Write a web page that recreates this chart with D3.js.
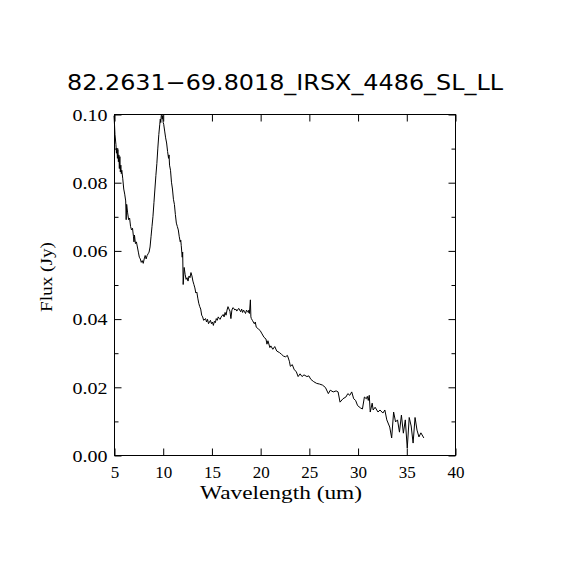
<!DOCTYPE html>
<html>
<head>
<meta charset="utf-8">
<script src="https://cdn.jsdelivr.net/npm/d3@7"></script>
<style>
    body { margin: 0; background: #fff; }
    svg text { font-family: "Liberation Serif", serif; fill: #000; }
</style>
</head>
<body>
<div id="divChart"></div>
<script>
    var chartTitle = "82.2631\u221269.8018_IRSX_4486_SL_LL";
    var xLabel = "Wavelength (um)";
    var yLabel = "Flux (Jy)";
    var xTicks = [5, 10, 15, 20, 25, 30, 35, 40];
    var yTicks = [0.00, 0.02, 0.04, 0.06, 0.08, 0.10];
    var yMinorTicks = [0.01, 0.03, 0.05, 0.07, 0.09];

    // wavelength (um)
    var wave = [
        5.0, 5.05, 5.1, 5.2, 5.25, 5.3, 5.35, 5.4, 5.45, 5.5, 5.55, 5.6, 5.65, 5.7, 5.75, 5.8, 5.9,
        6.0, 6.1, 6.2, 6.25, 6.3, 6.4, 6.5, 6.6, 6.7, 6.8, 6.9, 7.0, 7.05, 7.1, 7.2, 7.3, 7.4, 7.5,
        7.6, 7.7, 7.8, 7.9, 8.0, 8.1, 8.2, 8.3, 8.4, 8.5, 8.6, 8.7, 8.8, 8.9, 9.0, 9.1, 9.2, 9.3,
        9.4, 9.5, 9.6, 9.7, 9.75, 9.8, 9.85, 9.9, 9.95, 10.0, 10.05, 10.1, 10.2, 10.3, 10.4, 10.5,
        10.6, 10.65, 10.7, 10.8, 10.9, 11.0, 11.1, 11.2, 11.3, 11.4, 11.5, 11.6, 11.7, 11.8, 11.85,
        11.9, 12.0, 12.05, 12.1, 12.2, 12.3, 12.4, 12.5, 12.6, 12.7, 12.8, 12.9, 13.0, 13.1, 13.2,
        13.3, 13.4, 13.5, 13.6, 13.7, 13.8, 13.9, 14.0, 14.1, 14.2, 14.4, 14.5, 14.6, 14.7, 14.8,
        14.9, 15.0, 15.1, 15.2, 15.3, 15.4, 15.5, 15.6, 15.7, 15.8, 15.9, 16.0, 16.2, 16.3, 16.4,
        16.5, 16.6, 16.7, 16.8, 16.9, 17.0, 17.1, 17.2, 17.3, 17.4, 17.5, 17.6, 17.8, 17.9, 18.0,
        18.1, 18.2, 18.3, 18.4, 18.5, 18.6, 18.7, 18.8, 18.85, 18.9, 19.0, 19.05, 19.1, 19.2, 19.4,
        19.5, 19.6, 19.8, 20.0, 20.2, 20.4, 20.6, 20.7, 20.8, 21.0, 21.1, 21.3, 21.5, 21.7, 22.0,
        22.2, 22.4, 22.6, 22.8, 23.0, 23.1, 23.3, 23.5, 23.7, 23.9, 24.1, 24.3, 24.5, 24.8, 25.0,
        25.2, 25.5, 25.8, 26.1, 26.4, 26.7, 27.0, 27.2, 27.5, 27.8, 28.0, 28.2, 28.5, 28.8, 29.0,
        29.2, 29.4, 29.6, 29.8, 30.0, 30.3, 30.5, 30.7, 30.9, 31.0, 31.1, 31.2, 31.3, 31.5, 31.6,
        31.8, 32.1, 32.3, 32.6, 32.8, 33.0, 33.3, 33.5, 33.7, 33.9, 34.1, 34.3, 34.5, 34.7, 34.9,
        35.1, 35.3, 35.5, 35.7, 35.9, 36.1, 36.3, 36.5, 36.8
    ];

    // flux (Jy)
    var flux = [
        0.0995, 0.097, 0.094, 0.091, 0.0885, 0.090, 0.087, 0.0895, 0.086, 0.088, 0.084, 0.0875, 0.083, 0.085, 0.0825, 0.0835, 0.081,
        0.078, 0.0765, 0.0745, 0.069, 0.0735, 0.071, 0.069, 0.0695, 0.067, 0.066, 0.0665, 0.064, 0.0625, 0.0645, 0.062, 0.0625, 0.061, 0.0595,
        0.058, 0.0575, 0.0565, 0.057, 0.0562, 0.0575, 0.0585, 0.0575, 0.0585, 0.059, 0.0595, 0.061, 0.064, 0.067, 0.070, 0.074, 0.078, 0.082,
        0.0855, 0.090, 0.094, 0.097, 0.0985, 0.0975, 0.0995, 0.100, 0.0985, 0.0995, 0.0975, 0.097, 0.095, 0.093, 0.0915, 0.089,
        0.087, 0.088, 0.085, 0.0835, 0.080, 0.078, 0.075, 0.0735, 0.0705, 0.068, 0.067, 0.066, 0.064, 0.0625, 0.063,
        0.0615, 0.058, 0.0595, 0.050, 0.055, 0.053, 0.0515, 0.052, 0.051, 0.0525, 0.052, 0.0535, 0.0525, 0.051, 0.050,
        0.049, 0.0475, 0.0478, 0.046, 0.0445, 0.0435, 0.0428, 0.041, 0.0405, 0.0395, 0.040, 0.039, 0.0398, 0.0385, 0.039,
        0.0395, 0.0385, 0.039, 0.038, 0.0392, 0.0388, 0.040, 0.0395, 0.0405, 0.040, 0.0398, 0.0405, 0.0412, 0.0405, 0.0418,
        0.041, 0.0425, 0.0435, 0.0428, 0.0422, 0.040, 0.0425, 0.0432, 0.043, 0.0425, 0.0428, 0.0422, 0.043, 0.0425, 0.042,
        0.0428, 0.0418, 0.0425, 0.042, 0.0415, 0.0425, 0.042, 0.0418, 0.0425, 0.0415, 0.0455, 0.0405, 0.040, 0.0395, 0.0385,
        0.039, 0.0375, 0.037, 0.0365, 0.0355, 0.0345, 0.034, 0.0325, 0.0335, 0.0315, 0.032, 0.031, 0.0318, 0.0305, 0.030,
        0.0295, 0.029, 0.0288, 0.0292, 0.0275, 0.026, 0.0265, 0.025, 0.0245, 0.023, 0.0238, 0.023, 0.0235, 0.023, 0.0232,
        0.0222, 0.0215, 0.021, 0.0208, 0.0205, 0.0198, 0.018, 0.019, 0.0185, 0.0188, 0.0185, 0.0155, 0.0165, 0.017, 0.018,
        0.0175, 0.0185, 0.0165, 0.016, 0.0145, 0.0138, 0.0135, 0.017, 0.0165, 0.0172, 0.016, 0.0175, 0.0126, 0.0152, 0.0132,
        0.014, 0.0126, 0.0132, 0.0123, 0.0132, 0.0103, 0.0082, 0.005, 0.0126, 0.0097, 0.0103, 0.0067, 0.0117, 0.0064, 0.0103,
        0.002, 0.011, 0.0085, 0.0035, 0.011, 0.0073, 0.0053, 0.0065, 0.005
    ];

    function init()
    {
        var chartPlace = document.getElementById("divChart");

        var width = 570;
        var height = 570;
        var left = 114, right = 455, top = 114, bottom = 455;

        var svg = d3.select(chartPlace).append("svg")
            .attr("width", width)
            .attr("height", height);

        var scaleX = d3.scaleLinear()
            .domain([5, 40])
            .range([left, right]);

        var scaleY = d3.scaleLinear()
            .domain([0, 0.1])
            .range([bottom, top]);

        // рамка
        svg.append("rect")
            .attr("x", left + 0.5)
            .attr("y", top + 0.5)
            .attr("width", right - left)
            .attr("height", bottom - top)
            .style("fill", "none")
            .style("stroke", "black")
            .style("stroke-width", 1);

        // оси: метки внутрь рамки, подписи снизу и слева
        var xAxis = d3.axisBottom(scaleX).tickValues(xTicks).tickSizeInner(-7).tickSizeOuter(0).tickPadding(10);
        var xAxisTop = d3.axisTop(scaleX).tickValues(xTicks).tickSizeInner(-7).tickSizeOuter(0).tickFormat("");
        var yAxis = d3.axisLeft(scaleY).tickValues(yTicks).tickSizeInner(-7).tickSizeOuter(0)
            .tickPadding(14).tickFormat(d3.format(".2f"));
        var yAxisRight = d3.axisRight(scaleY).tickValues(yTicks).tickSizeInner(-7).tickSizeOuter(0).tickFormat("");
        var yMinor = d3.axisLeft(scaleY).tickValues(yMinorTicks).tickSizeInner(-4).tickSizeOuter(0).tickFormat("");
        var yMinorRight = d3.axisRight(scaleY).tickValues(yMinorTicks).tickSizeInner(-4).tickSizeOuter(0).tickFormat("");

        var axes = [
            [xAxis, "translate(0.5," + (bottom + 0.5) + ")"],
            [xAxisTop, "translate(0.5," + (top + 0.5) + ")"],
            [yAxis, "translate(" + (left + 0.5) + ",0.5)"],
            [yAxisRight, "translate(" + (right + 0.5) + ",0.5)"],
            [yMinor, "translate(" + (left + 0.5) + ",0.5)"],
            [yMinorRight, "translate(" + (right + 0.5) + ",0.5)"]
        ];
        axes.forEach(function(a) {
            var g = svg.append("g")
                .attr("transform", a[1])
                .call(a[0]);
            g.select(".domain").remove();
            g.selectAll("line").style("stroke", "black");
            g.selectAll("text")
                .style("font-family", "'Liberation Serif', serif")
                .style("font-size", "17px")
                .style("fill", "black");
        });

        // подписи по оси Y шире, как в оригинале
        svg.selectAll("text")
            .filter(function() { return /^0\.\d\d$/.test(this.textContent); })
            .attr("textLength", 35)
            .attr("lengthAdjust", "spacingAndGlyphs")
            .attr("x", -7)
            .attr("dy", "0.34em");

        // спектр
        var data = [];
        for (var i = 0; i < wave.length; i++)
        {
            data.push({x: wave[i], y: flux[i]});
        }
        var line = d3.line()
            .x(function(d){ return scaleX(d.x); })
            .y(function(d){ return scaleY(d.y); });

        svg.append("path")
            .attr("d", line(data))
            .style("fill", "none")
            .style("stroke", "black")
            .style("stroke-width", 1);

        // заголовок и подписи осей
        svg.append("text")
            .attr("x", 285)
            .attr("y", 90)
            .attr("text-anchor", "middle")
            .attr("textLength", 436)
            .attr("lengthAdjust", "spacingAndGlyphs")
            .style("font-family", "'DejaVu Sans', sans-serif")
            .style("font-size", "21px")
            .text(chartTitle);

        svg.append("text")
            .attr("x", 281)
            .attr("y", 499)
            .attr("text-anchor", "middle")
            .attr("textLength", 162)
            .attr("lengthAdjust", "spacingAndGlyphs")
            .style("font-size", "18px")
            .text(xLabel);

        svg.append("text")
            .attr("transform", "translate(52,277) rotate(-90)")
            .attr("text-anchor", "middle")
            .attr("textLength", 70)
            .attr("lengthAdjust", "spacingAndGlyphs")
            .style("font-size", "17px")
            .text(yLabel);
    }

    window.onload = init;
</script>
</body>
</html>
